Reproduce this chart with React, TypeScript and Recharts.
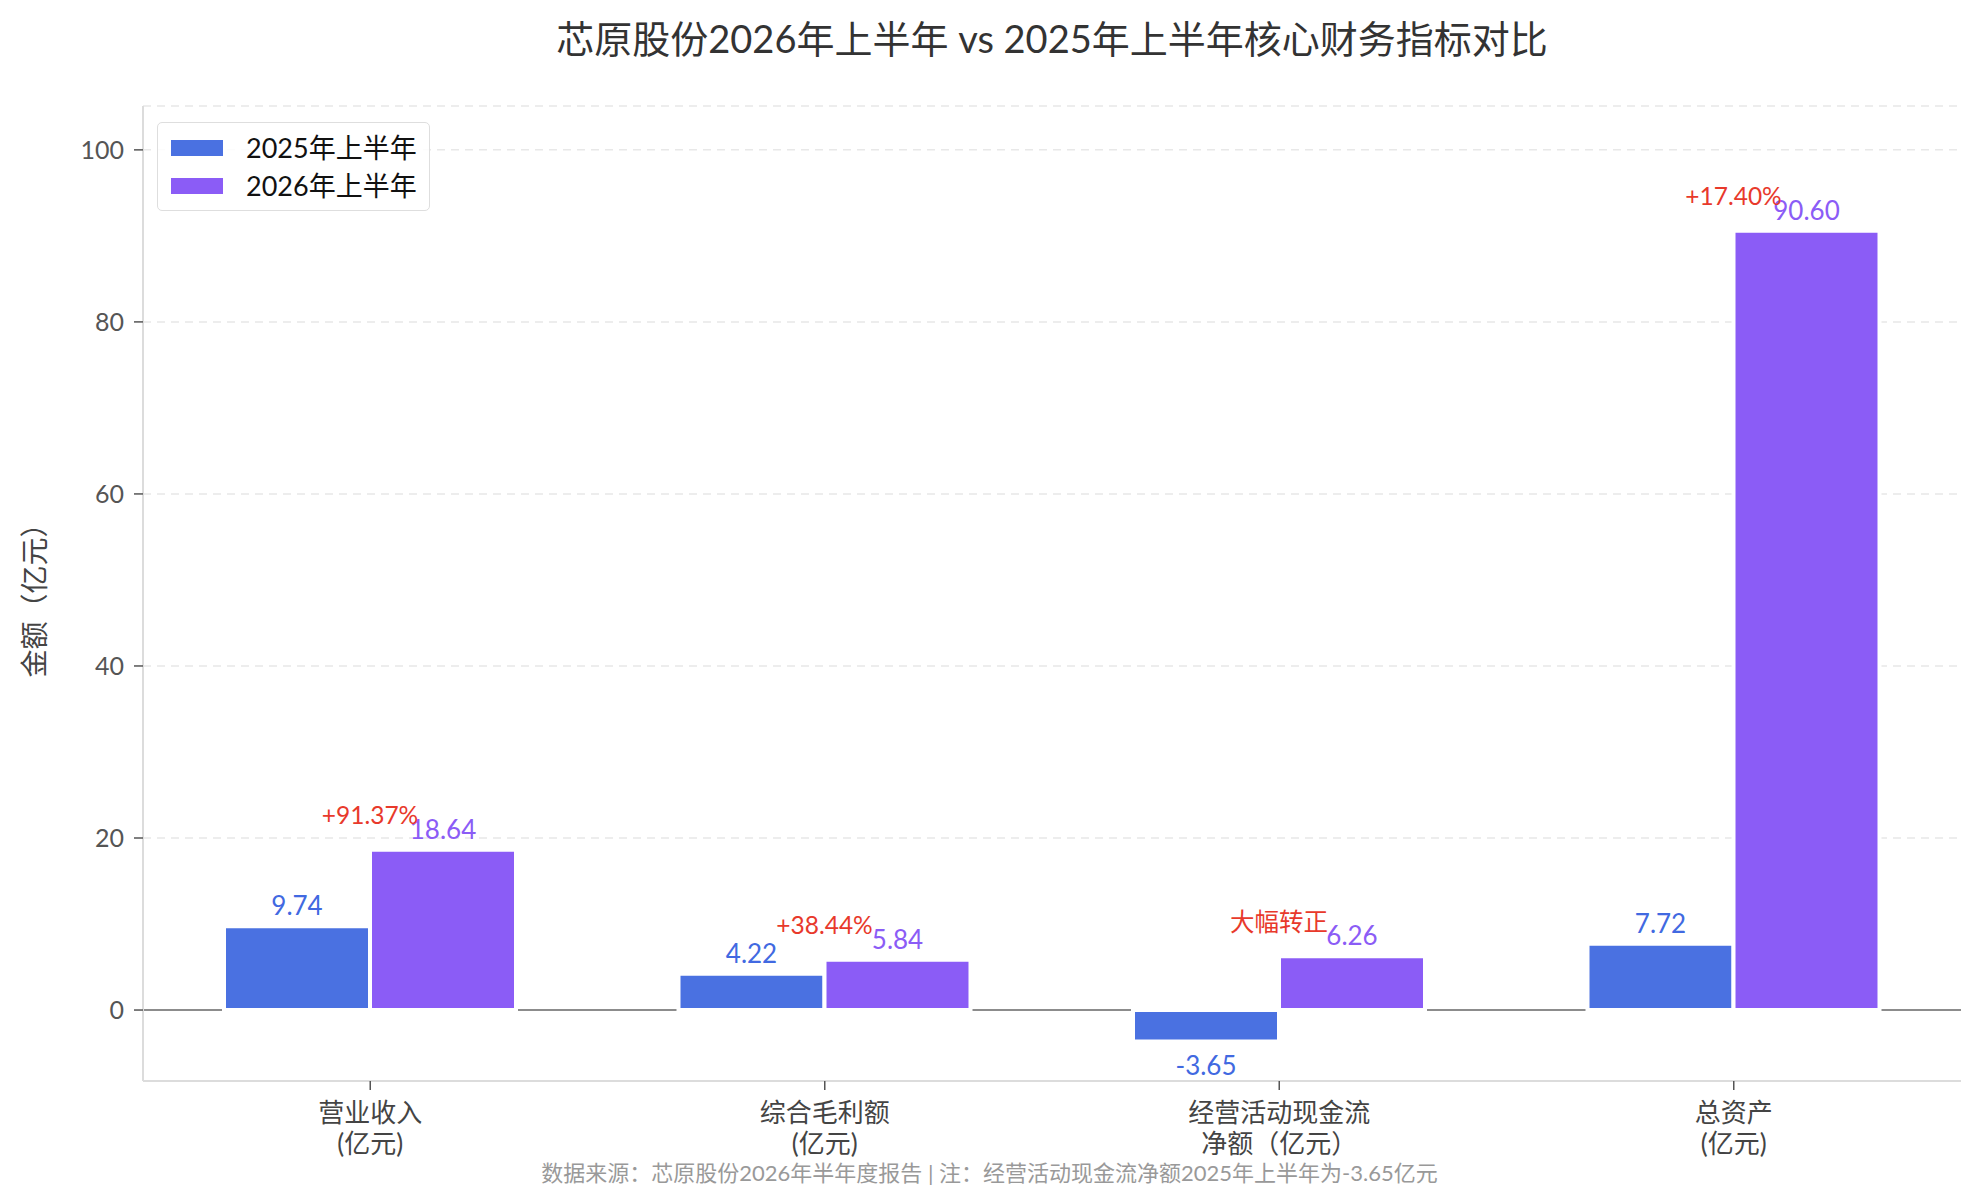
import { BarChart, Bar, XAxis, YAxis, CartesianGrid, Legend, ReferenceLine, LabelList } from 'recharts';

const categories = ['营业收入\n(亿元)', '综合毛利额\n(亿元)', '经营活动现金流\n净额（亿元）', '总资产\n(亿元)'];
const h1_2025 = [9.74, 4.22, -3.65, 7.72];
const h1_2026 = [18.64, 5.84, 6.26, 90.6];
const changeLabels = ['+91.37%', '+38.44%', '大幅转正', '+17.40%'];
const yTicks = [0, 20, 40, 60, 80, 100];

const data = categories.map((name, i) => ({
  name,
  h2025: h1_2025[i],
  h2026: h1_2026[i],
  change: changeLabels[i],
}));

const FONT = "Lato, 'Noto Sans CJK SC', sans-serif";
const BLUE = '#4a71e1';
const PURPLE = '#8b5cf6';
const RED = '#e8392b';

// label props differ a bit between recharts versions, so read both shapes
function barBox(p: any) {
  const vb = p.viewBox ?? {};
  const x = vb.x ?? p.x;
  const y = vb.y ?? p.y;
  const width = vb.width ?? p.width;
  const height = vb.height ?? p.height;
  return { x, width, top: Math.min(y, y + height), bottom: Math.max(y, y + height) };
}

function valueLabel(p: any, color: string) {
  const { x, width, top, bottom } = barBox(p);
  const v = Number(p.value);
  const ty = v < 0 ? bottom + 24 : top - 21;
  return (
    <text x={x + width / 2} y={ty} textAnchor="middle" dominantBaseline="central" fill={color} fontSize={26}>
      {v.toFixed(2)}
    </text>
  );
}

function changeLabel(p: any) {
  const { x, top } = barBox(p);
  return (
    <text x={x} y={top - 35} textAnchor="middle" dominantBaseline="central" fill={RED} fontSize={24.5}>
      {changeLabels[p.index]}
    </text>
  );
}

const XTick = ({ x, y, payload }: any) => {
  const lines = String(payload.value).split('\n');
  return (
    <text x={x} y={y} textAnchor="middle" fill="#444" fontSize={26}>
      {lines.map((l, i) => (
        <tspan key={i} x={x} y={y + 30 + i * 31}>
          {l}
        </tspan>
      ))}
    </text>
  );
};

const YLabel = ({ viewBox }: any) => {
  const cx = 34;
  const cy = viewBox.y + viewBox.height / 2;
  return (
    <text x={cx} y={cy} transform={`rotate(-90, ${cx}, ${cy})`} textAnchor="middle" dominantBaseline="central" fill="#444" fontSize={28}>
      金额（亿元）
    </text>
  );
};

const LegendBox = ({ payload }: any) => (
  <div
    style={{
      position: 'relative',
      width: 273,
      height: 89,
      boxSizing: 'border-box',
      border: '1.5px solid #dedede',
      borderRadius: 5,
      background: 'rgba(255,255,255,0.85)',
    }}
  >
    {(payload ?? []).map((item: any, i: number) => (
      <div key={item.value} style={{ position: 'absolute', left: 0, top: 25 + i * 38 - 15, height: 30, width: '100%' }}>
        <div style={{ position: 'absolute', left: 13, top: 7, width: 52, height: 16, background: item.color }} />
        <div style={{ position: 'absolute', left: 88, top: 0, lineHeight: '30px', fontSize: 27, color: '#111' }}>{item.value}</div>
      </div>
    ))}
  </div>
);

export default function App() {
  return (
    <div style={{ position: 'absolute', left: 0, top: 0, width: 1979, height: 1200, background: '#fff', fontFamily: FONT }}>
      <div
        style={{
          position: 'absolute',
          left: 143,
          width: 1818,
          top: 19,
          textAlign: 'center',
          fontSize: 38,
          lineHeight: '38px',
          color: '#333',
        }}
      >
        芯原股份2026年上半年 vs 2025年上半年核心财务指标对比
      </div>
      <div style={{ position: 'absolute', left: 0, top: 0 }}>
        <BarChart
          width={1979}
          height={1200}
          data={data}
          margin={{ top: 106, right: 18, bottom: 0, left: 43 }}
          barGap={0}
        >
          <CartesianGrid vertical={false} stroke="#e8e8e8" strokeWidth={1.5} strokeDasharray="8 6" />
          <XAxis
            dataKey="name"
            interval={0}
            height={119}
            tick={<XTick />}
            tickSize={9}
            tickMargin={2}
            tickLine={{ stroke: '#555', strokeWidth: 1.5 }}
            axisLine={{ stroke: '#dcdcdc', strokeWidth: 2 }}
          />
          <YAxis
            type="number"
            width={100}
            domain={[-8.25, 105.1]}
            ticks={yTicks}
            allowDataOverflow
            tick={{ fill: '#555', fontSize: 25 }}
            tickSize={9}
            tickMargin={10}
            tickLine={{ stroke: '#555', strokeWidth: 1.5 }}
            axisLine={{ stroke: '#dcdcdc', strokeWidth: 2 }}
            label={<YLabel />}
          />
          <ReferenceLine y={0} stroke="#8c8c8c" strokeWidth={2} zIndex={-1} />
          <Legend
            layout="vertical"
            align="center"
            verticalAlign="middle"
            wrapperStyle={{ left: 157, top: 122, width: 273 }}
            content={<LegendBox />}
          />
          <Bar dataKey="h2025" name="2025年上半年" fill={BLUE} stroke="#fff" strokeWidth={4} barSize={146} isAnimationActive={false}>
            <LabelList dataKey="h2025" content={(p: any) => valueLabel(p, '#4169e1')} />
          </Bar>
          <Bar dataKey="h2026" name="2026年上半年" fill={PURPLE} stroke="#fff" strokeWidth={4} barSize={146} isAnimationActive={false}>
            <LabelList dataKey="h2026" content={(p: any) => valueLabel(p, PURPLE)} />
            <LabelList dataKey="change" content={changeLabel} />
          </Bar>
        </BarChart>
      </div>
      <div
        style={{
          position: 'absolute',
          left: 0,
          width: 1979,
          top: 1162,
          textAlign: 'center',
          fontSize: 22,
          lineHeight: '22px',
          color: '#999',
        }}
      >
        数据来源：芯原股份2026年半年度报告 | 注：经营活动现金流净额2025年上半年为-3.65亿元
      </div>
    </div>
  );
}
